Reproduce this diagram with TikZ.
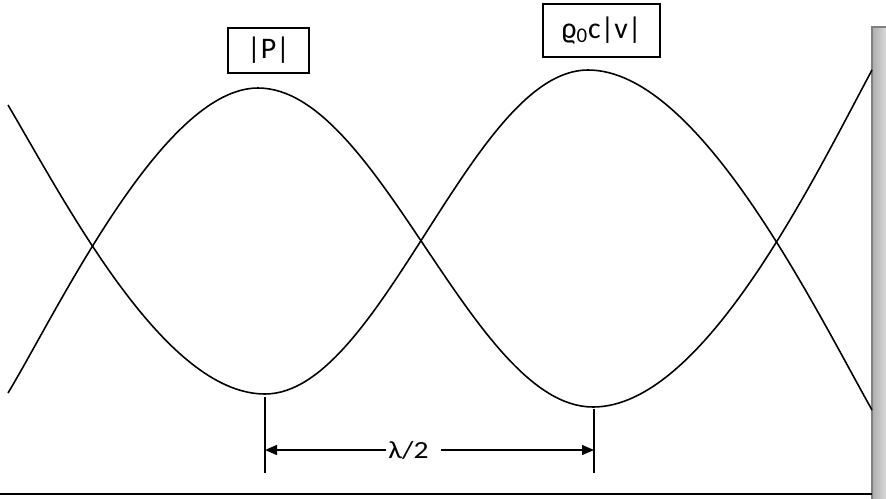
\documentclass[tikz,border=0pt]{standalone}
\usepackage{fontspec}
\setmainfont{Carlito}
\newfontfamily\cotafont[FakeStretch=1.2]{Carlito}
\usetikzlibrary{arrows.meta}

\begin{document}
\begin{tikzpicture}[x=0.02cm,y=-0.02cm,
    curva/.style={line width=0.9pt},
    rotulo/.style={draw,line width=0.9pt,inner sep=0,font=\fontsize{17}{20}\selectfont},
    cota/.style={line width=0.8pt,-{Triangle[length=0.24cm,width=0.2cm]}}]
  \useasboundingbox (0,0) rectangle (886,498);

  % parede rígida à direita
  \shade[left color=gray!65,right color=gray!20] (872,27) rectangle (890,500);
  \draw[gray,line width=0.8pt] (872,500) -- (872,27) -- (890,27);
  \draw[line width=0.8pt] (0,494) -- (872,494);

  % amplitude da pressão
  \draw[curva] (8,105) .. controls (68,207) and (165,394) .. (265,394)
    .. controls (381,394) and (472,70) .. (588,70)
    .. controls (698,70) and (812,303) .. (872,410);
  % amplitude da velocidade
  \draw[curva] (8,393) .. controls (58,310) and (163,88) .. (258,88)
    .. controls (379,88) and (472,407) .. (593,407)
    .. controls (703,407) and (812,182) .. (872,70);

  \node[rotulo,minimum width=1.62cm,minimum height=0.9cm] (rotP) at (268.5,50.5) {|P|};
  \node[rotulo,minimum width=2.34cm,minimum height=1.06cm] (rotV) at (601.5,30.5)
    {ϱ\textsubscript{0}c|v|};

  % cota de meio comprimento de onda
  \coordinate (minP) at (265,397);
  \coordinate (baseP) at (265,473);
  \coordinate (minV) at (594,409);
  \coordinate (baseV) at (594,473);
  \coordinate (setaE) at (265,450);
  \coordinate (setaD) at (594,450);
  \draw[line width=0.8pt] (minP) -- (baseP);
  \draw[line width=0.8pt] (minV) -- (baseV);
  \node[inner xsep=1pt,font=\cotafont\fontsize{14}{16}\selectfont] (meio) at (408.5,450) {λ/2};
  \draw[cota] (meio.west) -- (setaE);
  \draw[cota] ([xshift=0.2cm]meio.east) -- (setaD);
\end{tikzpicture}
\end{document}
